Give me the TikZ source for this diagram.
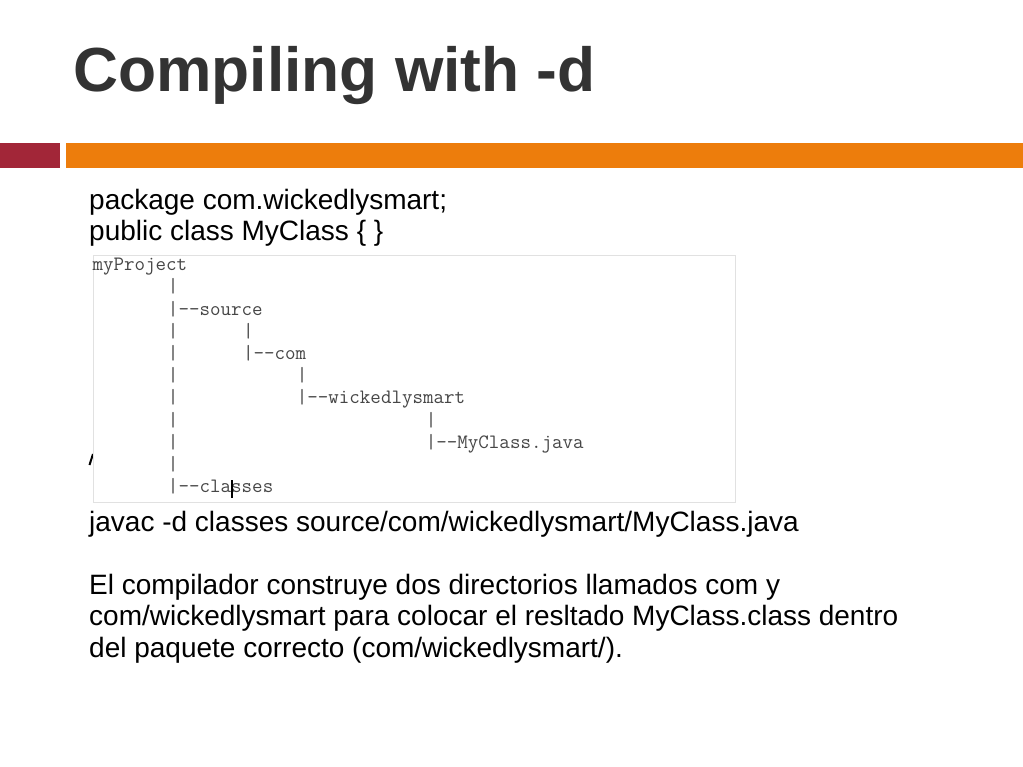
\documentclass[tikz,border=0pt]{standalone}
\usepackage{fontspec}
\setmainfont{Liberation Sans}
\usetikzlibrary{positioning}
\definecolor{slidered}{RGB}{162,38,56}
\definecolor{slideorange}{RGB}{237,125,12}
\definecolor{titlegray}{RGB}{51,51,51}
\definecolor{treegray}{RGB}{70,70,70}
\definecolor{shotframe}{RGB}{225,225,225}
\tikzset{
    title/.style={anchor=base west,inner sep=0pt,text=titlegray,font=\fontsize{62.3}{70}\selectfont\bfseries},
    body/.style={anchor=base west,inner sep=0pt,font=\fontsize{28}{32}\selectfont},
    tree/.style={anchor=base west,inner sep=0pt,text=treegray,font=\ttfamily\fontsize{20.4}{22}\selectfont},
    shot/.style={draw=shotframe,line width=0.8pt,fill=white},
}
% tree grid: column width, row height, origin
\def\cw{10.75}
\def\rh{22.2}
\def\tx{92.5}
\def\ty{270.7}

\begin{document}
\begin{tikzpicture}[x=1pt,y=-1pt]
    \useasboundingbox (0,0) rectangle (1023,767);
    \node[title] (ttl) at (73,92) {Compiling with -d};
    \fill[slidered] (0,143) rectangle (60,168);
    \fill[slideorange] (66,143) rectangle (1023,168);

    \node[body] (pkg) at (89,210) {package com.wickedlysmart;};
    \node[body] (cls) at (89,241) {public class MyClass \{ \}};

    % screenshot of the folder tree
    \draw[line width=2pt] (89.5,465) -- (93,454);
    \draw[shot] (93,255) rectangle (735,502);
    \node[tree] (root) at (\tx,\ty) {myProject};
    \foreach \r in {1,...,10}
        \node[tree] (v\r) at ({\tx+7*\cw},{\ty+\r*\rh}) {|};
    \node[tree] (src) at ({\tx+8*\cw},{\ty+2*\rh}) {-{}-source};
    \node[tree] (s3) at ({\tx+14*\cw},{\ty+3*\rh}) {|};
    \node[tree] (com) at ({\tx+14*\cw},{\ty+4*\rh}) {|-{}-com};
    \node[tree] (c5) at ({\tx+19*\cw},{\ty+5*\rh}) {|};
    \node[tree] (wsm) at ({\tx+19*\cw},{\ty+6*\rh}) {|-{}-wickedlysmart};
    \node[tree] (w7) at ({\tx+31*\cw},{\ty+7*\rh}) {|};
    \node[tree] (java) at ({\tx+31*\cw},{\ty+8*\rh}) {|-{}-MyClass.java};
    \node[tree] (out) at ({\tx+8*\cw},{\ty+10*\rh}) {-{}-classes};
    \draw[line width=1.2pt] (232,480) -- (232,498);

    \node[body] (cmd) at (89,531) {javac -d classes source/com/wickedlysmart/MyClass.java};
    \node[body] (p1) at (89,594) {El compilador construye dos directorios llamados com y};
    \node[body] (p2) at (89,625.5) {com/wickedlysmart para colocar el resltado MyClass.class dentro};
    \node[body] (p3) at (89,657) {del paquete correcto (com/wickedlysmart/).};
\end{tikzpicture}
\end{document}
